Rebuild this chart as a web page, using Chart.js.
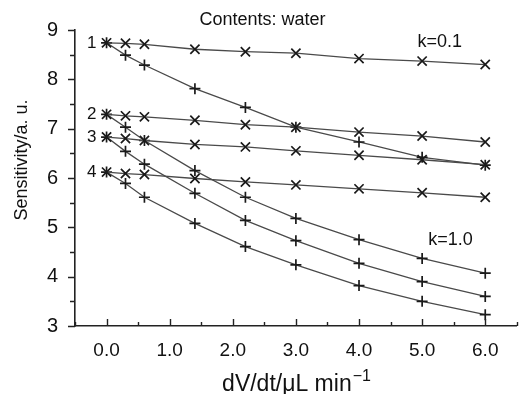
<!DOCTYPE html>
<html>
<head>
<meta charset="utf-8">
<script src="https://cdn.jsdelivr.net/npm/chart.js@4"></script>
<style>
  html, body { margin: 0; padding: 0; background: #fff; }
  #wrap { width: 525px; height: 394px; }
</style>
</head>
<body>
<div id="wrap"><canvas id="chart" width="525" height="394"></canvas></div>
<script>
// flow rate dV/dt (uL/min)
const flowRates = [0, 0.3, 0.6, 1.4, 2.2, 3.0, 4.0, 5.0, 6.0];

// k = 0.1  (x markers)
const k01_s1 = [8.74, 8.73, 8.71, 8.61, 8.56, 8.53, 8.42, 8.37, 8.30];
const k01_s2 = [7.29, 7.26, 7.24, 7.17, 7.08, 7.03, 6.93, 6.85, 6.73];
const k01_s3 = [6.83, 6.80, 6.76, 6.68, 6.63, 6.55, 6.46, 6.37, 6.27];
const k01_s4 = [6.12, 6.09, 6.07, 5.99, 5.92, 5.86, 5.78, 5.70, 5.61];

// k = 1.0  (+ markers)
const k10_s1 = [8.74, 8.49, 8.29, 7.81, 7.43, 7.03, 6.73, 6.42, 6.26];
const k10_s2 = [7.29, 7.03, 6.76, 6.15, 5.61, 5.18, 4.75, 4.37, 4.07];
const k10_s3 = [6.83, 6.54, 6.28, 5.69, 5.14, 4.73, 4.27, 3.90, 3.60];
const k10_s4 = [6.12, 5.89, 5.61, 5.08, 4.61, 4.24, 3.82, 3.50, 3.23];

const seriesNames = ["1", "2", "3", "4"];
const xTicks = [0, 1, 2, 3, 4, 5, 6];
const yTicks = [3, 4, 5, 6, 7, 8, 9];

const font = "'Liberation Sans', Arial, sans-serif";

function makeSet(label, values, style) {
  return {
    label: label,
    data: flowRates.map((x, i) => ({ x: x, y: values[i] })),
    showLine: true,
    borderColor: "#4a4a4a",
    borderWidth: 1.3,
    pointStyle: style,
    pointRadius: style === "crossRot" ? 6.5 : 5.5,
    pointBorderColor: "#1a1a1a",
    pointBorderWidth: 1.7,
    pointBackgroundColor: "#1a1a1a"
  };
}

// minor/major ticks, axis titles and text labels
const decor = {
  id: "decor",
  afterDraw(chart) {
    const ctx = chart.ctx;
    const xs = chart.scales.x, ys = chart.scales.y;
    const area = chart.chartArea;
    ctx.save();
    ctx.strokeStyle = "#222";
    ctx.lineWidth = 1.4;
    ctx.beginPath();
    for (let v = -0.5; v <= 6.5 + 1e-9; v += 0.5) {
      const px = Math.round(xs.getPixelForValue(v)) + 0.5;
      const len = Number.isInteger(v) ? 7 : 4;
      ctx.moveTo(px, area.bottom);
      ctx.lineTo(px, area.bottom - len);
    }
    for (let v = 3; v <= 9 + 1e-9; v += 0.5) {
      const py = Math.round(ys.getPixelForValue(v)) + 0.5;
      const len = Number.isInteger(v) ? 7 : 5;
      ctx.moveTo(area.left, py);
      ctx.lineTo(area.left - len, py);
    }
    ctx.stroke();

    ctx.fillStyle = "#111";
    ctx.textBaseline = "middle";
    ctx.textAlign = "center";
    ctx.font = "18px " + font;
    ctx.fillText("Contents: water", xs.getPixelForValue(2.47), 20);
    ctx.fillText("k=0.1", xs.getPixelForValue(5.28), ys.getPixelForValue(8.76));
    ctx.fillText("k=1.0", xs.getPixelForValue(5.45), ys.getPixelForValue(4.75));

    ctx.font = "17px " + font;
    ctx.textAlign = "right";
    const starts = [k01_s1[0], k01_s2[0], k01_s3[0], k01_s4[0]];
    seriesNames.forEach((n, i) => {
      ctx.fillText(n, xs.getPixelForValue(0) - 10, ys.getPixelForValue(starts[i]));
    });

    // y title
    ctx.save();
    ctx.translate(22, 160);
    ctx.rotate(-Math.PI / 2);
    ctx.textAlign = "center";
    ctx.font = "18px " + font;
    ctx.fillText("Sensitivity/a. u.", 0, 0);
    ctx.restore();

    // x title with superscript
    const main = "dV/dt/\u03bcL min";
    const sup = "\u22121";
    ctx.font = "23px " + font;
    const wMain = ctx.measureText(main).width;
    ctx.font = "16px " + font;
    const wSup = ctx.measureText(sup).width;
    const x0 = 296 - (wMain + wSup) / 2;
    ctx.textAlign = "left";
    ctx.textBaseline = "alphabetic";
    ctx.font = "23px " + font;
    ctx.fillText(main, x0, 391);
    ctx.font = "16px " + font;
    ctx.fillText(sup, x0 + wMain + 1, 381);
    ctx.restore();
  }
};

new Chart(document.getElementById("chart").getContext("2d"), {
  type: "scatter",
  data: {
    datasets: [
      makeSet("1, k=0.1", k01_s1, "crossRot"),
      makeSet("2, k=0.1", k01_s2, "crossRot"),
      makeSet("3, k=0.1", k01_s3, "crossRot"),
      makeSet("4, k=0.1", k01_s4, "crossRot"),
      makeSet("1, k=1.0", k10_s1, "cross"),
      makeSet("2, k=1.0", k10_s2, "cross"),
      makeSet("3, k=1.0", k10_s3, "cross"),
      makeSet("4, k=1.0", k10_s4, "cross")
    ]
  },
  options: {
    responsive: false,
    animation: false,
    layout: { padding: { top: 30, right: 2, left: 0, bottom: 0 } },
    plugins: { legend: { display: false }, tooltip: { enabled: false } },
    scales: {
      x: {
        type: "linear",
        min: -0.5,
        max: 6.5,
        afterBuildTicks: s => { s.ticks = xTicks.map(v => ({ value: v })); },
        afterFit: s => { s.height = 68; },
        grid: { display: false },
        border: { display: true, color: "#222", width: 1.6 },
        ticks: {
          color: "#111",
          padding: 5,
          maxRotation: 0,
          font: { family: font, size: 19 },
          callback: v => v.toFixed(1)
        },
        title: { display: false }
      },
      y: {
        min: 3,
        max: 9,
        afterBuildTicks: s => { s.ticks = yTicks.map(v => ({ value: v })); },
        afterFit: s => { s.width = 75; },
        grid: { display: false },
        border: { display: true, color: "#222", width: 1.6 },
        ticks: {
          color: "#111",
          padding: 9,
          font: { family: font, size: 20 }
        },
        title: { display: false }
      }
    }
  },
  plugins: [decor]
});
</script>
</body>
</html>
